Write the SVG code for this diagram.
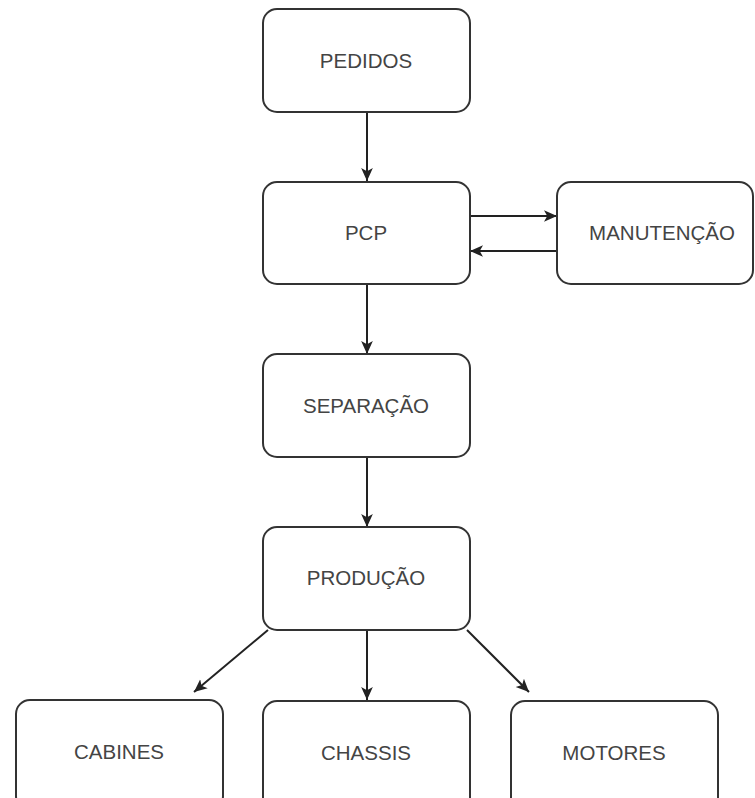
<svg xmlns="http://www.w3.org/2000/svg" width="755" height="798" viewBox="0 0 755 798">
<style>
.box{fill:#fff;stroke:#333;stroke-width:2}
.lbl{font-family:"Liberation Sans",Arial,sans-serif;font-size:20.5px;fill:#444;text-anchor:middle}
.edge{stroke:#222;stroke-width:2;fill:none;marker-end:url(#ah)}
</style>
<defs>
<marker id="ah" viewBox="0 0 10 10" refX="10" refY="5" markerWidth="13" markerHeight="13" markerUnits="userSpaceOnUse" orient="auto">
<path d="M0,0.5 L10,5 L0,9.5 L2.5,5 Z" fill="#222"/>
</marker>
</defs>
<rect width="755" height="798" fill="#fff"/>
<g id="connectors">
<line class="edge" x1="367" y1="112" x2="367" y2="181"/>
<line class="edge" x1="470" y1="216" x2="557" y2="216"/>
<line class="edge" x1="557" y1="251" x2="470" y2="251"/>
<line class="edge" x1="367" y1="284" x2="367" y2="354"/>
<line class="edge" x1="367" y1="457" x2="367" y2="527"/>
<line class="edge" x1="268" y1="630" x2="194" y2="692"/>
<line class="edge" x1="367" y1="630" x2="367" y2="700"/>
<line class="edge" x1="467" y1="630" x2="529" y2="692"/>
</g>
<g id="pedidos"><rect class="box" x="263" y="9" width="207" height="103" rx="14"/><text class="lbl" x="366" y="68">PEDIDOS</text></g>
<g id="pcp"><rect class="box" x="263" y="182" width="207" height="102" rx="14"/><text class="lbl" x="366" y="240">PCP</text></g>
<g id="manutencao"><rect class="box" x="557" y="182" width="196" height="102" rx="14"/><text class="lbl" x="662" y="240">MANUTENÇÃO</text></g>
<g id="separacao"><rect class="box" x="263" y="354" width="207" height="103" rx="14"/><text class="lbl" x="366" y="413">SEPARAÇÃO</text></g>
<g id="producao"><rect class="box" x="263" y="527" width="207" height="103" rx="14"/><text class="lbl" x="366" y="585">PRODUÇÃO</text></g>
<g id="cabines"><rect class="box" x="16" y="700" width="207" height="110" rx="14"/><text class="lbl" x="119" y="759">CABINES</text></g>
<g id="chassis"><rect class="box" x="263" y="701" width="207" height="110" rx="14"/><text class="lbl" x="366" y="760">CHASSIS</text></g>
<g id="motores"><rect class="box" x="511" y="701" width="207" height="110" rx="14"/><text class="lbl" x="614" y="760">MOTORES</text></g>
</svg>
